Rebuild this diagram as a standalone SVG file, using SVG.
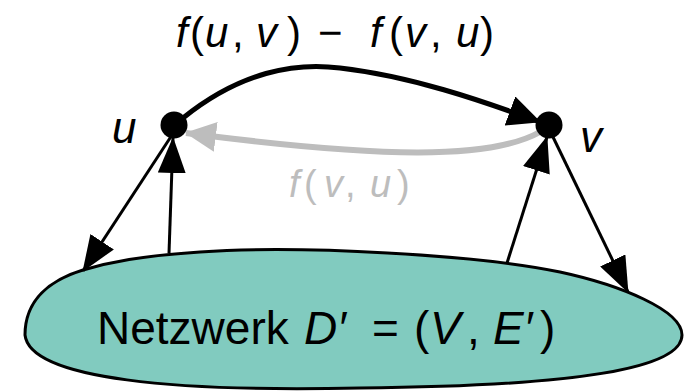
<svg xmlns="http://www.w3.org/2000/svg" width="689" height="391" viewBox="0 0 689 391">
<style>
  .txt { font-family: "Liberation Sans", Arial, sans-serif; fill: #000; }
  .it { font-style: italic; }
  .gray { fill: #bdbdbd; }
  .edge { fill: none; stroke: #000; stroke-width: 3; }
  .thick { stroke-width: 5; }
  .grayedge { fill: none; stroke: #bdbdbd; stroke-width: 6; }
  .node { fill: #000; }
</style>
<defs>
  <marker id="ah" viewBox="0 0 36 28" refX="35" refY="14" markerWidth="36" markerHeight="28" markerUnits="userSpaceOnUse" orient="auto">
    <path d="M0,0 L36,14 L0,28 Z" fill="#000"/>
  </marker>
  <marker id="ahb" viewBox="0 0 33 31" refX="32" refY="15.5" markerWidth="33" markerHeight="31" markerUnits="userSpaceOnUse" orient="auto">
    <path d="M0,0 L33,15.5 L0,31 Z" fill="#000"/>
  </marker>
  <marker id="ahg" viewBox="0 0 31 30" refX="30" refY="15" markerWidth="31" markerHeight="30" markerUnits="userSpaceOnUse" orient="auto">
    <path d="M0,0 L31,15 L0,30 Z" fill="#bdbdbd"/>
  </marker>
</defs>

<g id="network">
  <path d="M25,335 C25,300 50,280 83,270 C110,262 140,256 200,252 C300,245 480,255 560,272 C620,285 682,310 682,335 C682,368 580,386 360,388 C180,392 30,380 25,335 Z" fill="#81cbbf" stroke="#000" stroke-width="3"/>
  <text class="txt" y="344" font-size="46"><tspan x="97">Netzwerk </tspan><tspan x="304" class="it">D′ </tspan><tspan x="372">= </tspan><tspan x="414">(</tspan><tspan x="430" class="it">V</tspan><tspan x="467">, </tspan><tspan x="493" class="it">E′</tspan><tspan x="540">)</tspan></text>
</g>

<g id="connectors">
  <path class="edge thick" d="M183,118 C240,72 295,62 340,68 C410,76 480,100 540,122" marker-end="url(#ahb)"/>
  <path class="grayedge" d="M540,132 C490,160 380,158 186,133" marker-end="url(#ahg)"/>
  <line class="edge" x1="172" y1="135" x2="83" y2="271" marker-end="url(#ah)"/>
  <line class="edge" x1="169" y1="253" x2="173" y2="138" marker-end="url(#ah)"/>
  <line class="edge" x1="507" y1="263" x2="547" y2="137" marker-end="url(#ah)"/>
  <line class="edge" x1="553" y1="137" x2="628" y2="292" marker-end="url(#ah)"/>
</g>

<g id="node-u">
  <circle class="node" cx="174" cy="125" r="13.5"/>
  <text class="txt it" x="112" y="143" font-size="44">u</text>
</g>

<g id="node-v">
  <circle class="node" cx="549" cy="125" r="13.5"/>
  <text class="txt it" x="580" y="152" font-size="44">v</text>
</g>

<g id="label-top">
  <text class="txt" y="47" font-size="42"><tspan x="176" class="it">f</tspan><tspan x="190">(</tspan><tspan x="205" class="it">u</tspan><tspan x="232">, </tspan><tspan x="256" class="it">v</tspan><tspan x="287">) </tspan><tspan x="318">− </tspan><tspan x="370" class="it">f</tspan><tspan x="389">(</tspan><tspan x="405" class="it">v</tspan><tspan x="430">, </tspan><tspan x="456" class="it">u</tspan><tspan x="480">)</tspan></text>
</g>

<g id="label-gray">
  <text class="txt gray" y="197" font-size="38"><tspan x="289" class="it">f</tspan><tspan x="304">(</tspan><tspan x="324" class="it">v</tspan><tspan x="345">, </tspan><tspan x="370" class="it">u</tspan><tspan x="397">)</tspan></text>
</g>
</svg>
